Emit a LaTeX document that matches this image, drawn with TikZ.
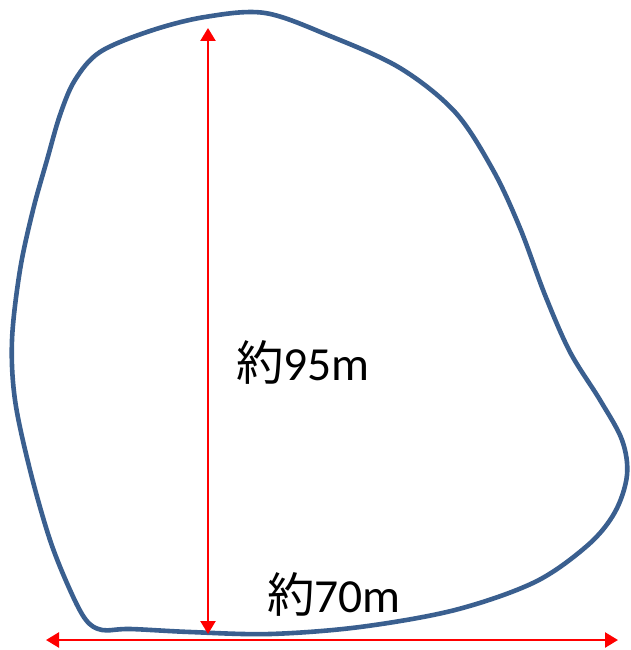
\documentclass[tikz,border=0pt]{standalone}
\usepackage{fontspec}
\setmainfont{Carlito}
\newfontfamily\cjk{Noto Sans CJK JP}
\usetikzlibrary{arrows.meta}
\definecolor{blobblue}{HTML}{3A5F8F}
\tikzset{
  blob/.style={draw=blobblue, line width=4.6pt, line join=round},
  dimarrow/.style={draw=red, line width=2.5pt, {Triangle[length=13pt,width=15pt]}-{Triangle[length=13pt,width=15pt]}},
  lbl/.style={font=\fontsize{47.5}{50}\selectfont, inner sep=0pt, anchor=base west}
}
\begin{document}
\begin{tikzpicture}[x=1pt,y=-1pt]
\useasboundingbox (0,0) rectangle (630,650);
\draw[blob] plot[smooth cycle, tension=0.55] coordinates {
  (265,13) (330,36) (400,68) (455,112) (493,170) (520,228) (545,295)
  (570,352) (600,400) (622,440) (627,475) (615,512) (588,545)
  (535,582) (455,610) (360,627) (270,634) (190,632) (130,629)
  (102,630) (86,620) (70,590) (50,540) (30,470) (15,400) (12,340)
  (20,270) (33,210) (47,160) (60,115) (75,80) (100,52) (150,31) (205,17)
};
\coordinate (vtop) at (208,28);
\coordinate (vbot) at (208,634);
\coordinate (hleft) at (46,640);
\coordinate (hright) at (618,640);
\draw[dimarrow] (vtop) -- (vbot);
\draw[dimarrow] (hleft) -- (hright);
\node[lbl] (h) at (236,380) {{\cjk 約}95m};
\node[lbl] (w) at (267,612) {{\cjk 約}70m};
\end{tikzpicture}
\end{document}
